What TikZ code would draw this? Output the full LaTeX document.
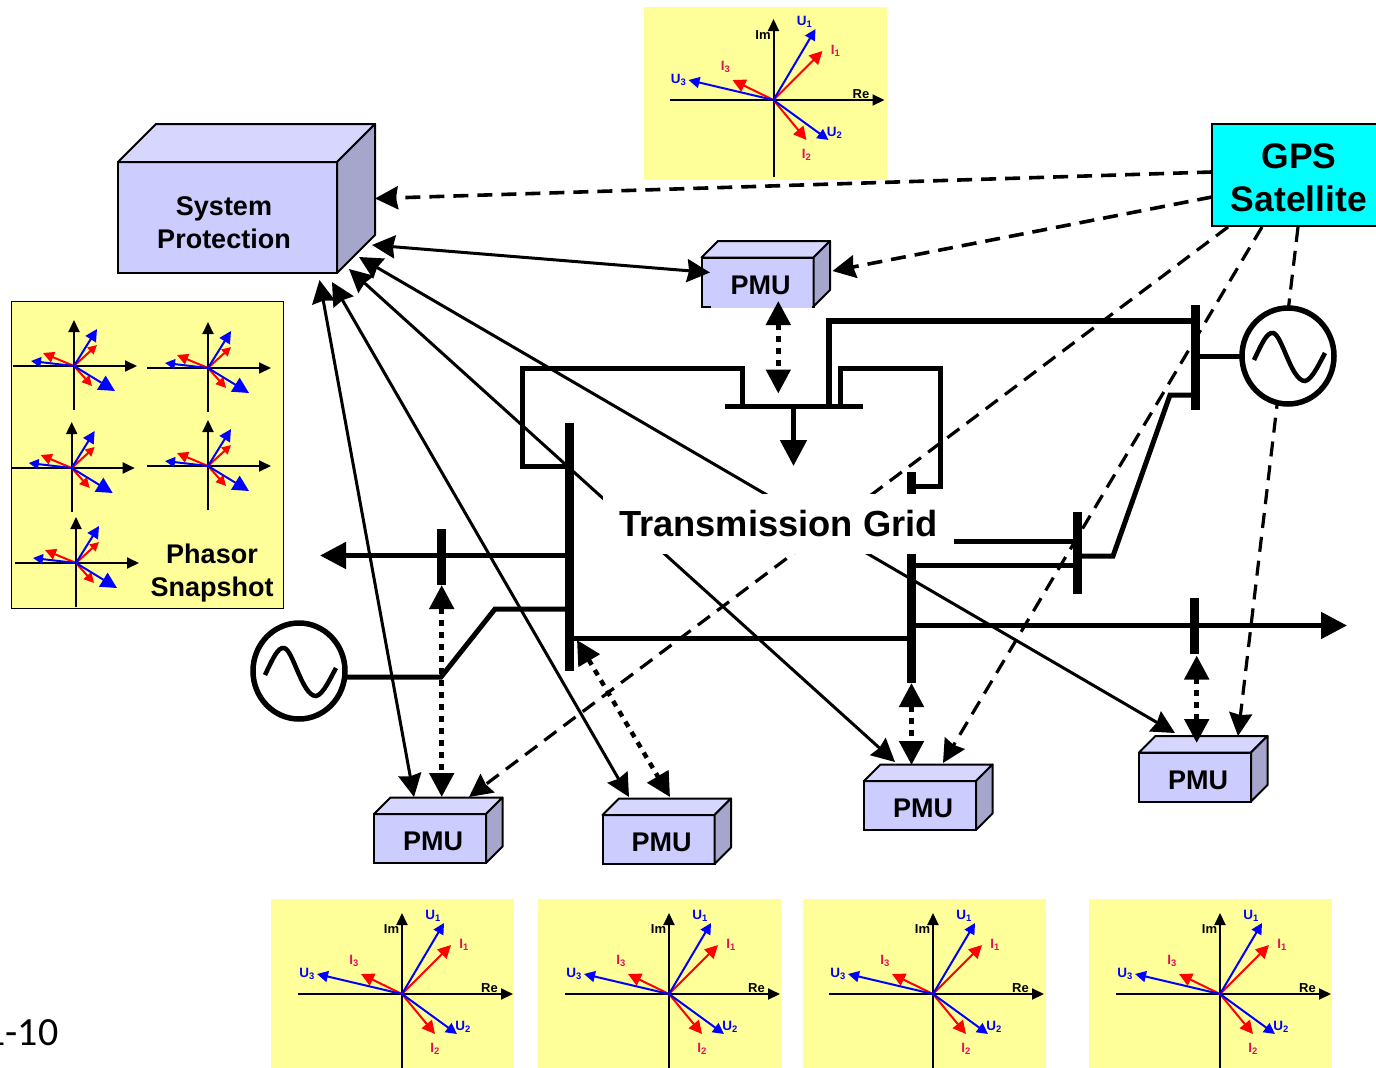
\documentclass[tikz,border=0pt]{standalone}
\usepackage{fontspec}
\setmainfont{Liberation Sans}
\newfontfamily\slidefont{Carlito}
\usetikzlibrary{arrows.meta,shapes.geometric}
\definecolor{paneyellow}{HTML}{FFFF99}
\definecolor{boxfront}{HTML}{CCCCFF}
\definecolor{boxtop}{HTML}{D6D6FF}
\definecolor{boxside}{HTML}{A6A6CC}
\definecolor{gpscyan}{HTML}{00FFFF}
\definecolor{vecblue}{HTML}{0000FF}
\definecolor{vecred}{HTML}{FF0000}
\definecolor{labred}{HTML}{E0105A}
\tikzstyle{panel} = [rectangle, fill=paneyellow, minimum width=243pt, minimum height=173pt, inner sep=0pt, outer sep=0pt]
\tikzstyle{axisline} = [line width=2pt, black, -{Triangle[length=12pt,width=11pt]}]
\tikzstyle{bluevec}[11pt] = [line width=2pt, vecblue, -{Triangle[length=#1,width=#1]}]
\tikzstyle{redvec}[13pt] = [line width=2pt, vecred, -{Triangle[length=#1,width=#1]}]
\tikzstyle{blab} = [text=vecblue, font=\fontsize{13.5}{13.5}\selectfont\bfseries, inner sep=0pt]
\tikzstyle{rlab} = [text=labred, font=\fontsize{13.5}{13.5}\selectfont\bfseries, inner sep=0pt]
\tikzstyle{alab} = [text=black, font=\fontsize{13}{13}\selectfont\bfseries, inner sep=0pt]
\tikzstyle{front} = [rectangle, draw=black, line width=2pt, fill=boxfront, inner sep=0pt, outer sep=0pt]
\tikzstyle{face} = [draw=black, line width=2pt, line join=round]
\tikzstyle{boxtext} = [font=\fontsize{27}{33}\selectfont\bfseries, align=center, inner sep=0pt]
\tikzstyle{busbar} = [rectangle, fill=black, inner sep=0pt, outer sep=0pt]
\tikzstyle{net} = [line width=5pt, black, line join=miter]
\tikzstyle{bigarrow} = [line width=5pt, black, -{Triangle[length=26pt,width=26pt]}]
\tikzstyle{solidsig} = [line width=3pt, black, {Stealth[length=23pt,width=23pt,inset=2pt]}-{Stealth[length=23pt,width=23pt,inset=2pt]}]
\tikzstyle{dashsig} = [line width=3.2pt, black, dash pattern=on 15pt off 9pt, -{Stealth[length=23pt,width=23pt,inset=2pt]}]
\tikzstyle{dotsig} = [line width=5pt, black, dash pattern=on 6pt off 6pt, {Triangle[length=24pt,width=24pt]}-{Triangle[length=24pt,width=24pt]}]
\tikzstyle{gen} = [ellipse, draw=black, line width=5.5pt, fill=white, minimum width=92pt, minimum height=96pt, inner sep=0pt, outer sep=0pt]
% one phasor diagram
\newcommand{\phasorpic}[3]{
	\begin{scope}[shift={(#2,#3)}]
		\coordinate (#1o) at (0,0);
		\draw [axisline] (-104,0) -- (111,0);
		\draw [axisline] (0,77) -- (0,-81);
		\draw [redvec] (#1o) -- (49,-49);
		\draw [redvec] (#1o) -- (-41,-20);
		\draw [redvec] (#1o) -- (33,40);
		\draw [bluevec] (#1o) -- (42,-71);
		\draw [bluevec] (#1o) -- (-85,-20);
		\draw [bluevec] (#1o) -- (55,40);
		\node (#1u1) [blab] at (31,-78) {U\textsubscript{1}};
		\node (#1u2) [blab] at (61,33) {U\textsubscript{2}};
		\node (#1u3) [blab] at (-95,-20) {U\textsubscript{3}};
		\node (#1i1) [rlab] at (62,-49) {I\textsubscript{1}};
		\node (#1i2) [rlab] at (33,55) {I\textsubscript{2}};
		\node (#1i3) [rlab] at (-48,-33) {I\textsubscript{3}};
		\node (#1im) [alab] at (-10.5,-65) {Im};
		\node (#1re) [alab] at (87.5,-6) {Re};
	\end{scope}
}
% small diagram of the snapshot panel
\newcommand{\snapphasor}[3]{
	\begin{scope}[shift={(#2,#3)}]
		\coordinate (#1) at (0,0);
		\draw [axisline] (-61,0) -- (63,0);
		\draw [axisline] (0,44) -- (0,-46);
		\draw [redvec=9pt] (#1) -- (23,-21);
		\draw [redvec=11pt] (#1) -- (-31,-13);
		\draw [redvec=10pt] (#1) -- (18,20);
		\draw [bluevec=12pt] (#1) -- (23,-37);
		\draw [bluevec=10pt] (#1) -- (-43,-5);
		\draw [bluevec=16pt] (#1) -- (41,25);
	\end{scope}
}
% top and side faces of a box, #1 is its front
\newcommand{\boxfaces}[2]{
	\draw [face, fill=boxtop] (#1.north west) -- ([shift={(#2,-#2)}]#1.north west) -- ([shift={(#2,-#2)}]#1.north east) -- (#1.north east) -- cycle;
	\draw [face, fill=boxside] (#1.north east) -- ([shift={(#2,-#2)}]#1.north east) -- ([shift={(#2,-#2)}]#1.south east) -- (#1.south east) -- cycle;
}
\newcommand{\pmubox}[3]{
	\node (#1) [front, minimum width=112pt, minimum height=49pt] at (#2,#3) {};
	\boxfaces{#1}{16.5}
	\node (#1text) [boxtext, xshift=3pt, yshift=-3pt] at (#1) {PMU};
}
\newcommand{\genwave}[1]{
	\draw [line width=4.5pt, black] ([shift={(-34,4)}]#1.center) .. controls ([shift={(-26,-13)}]#1.center) and ([shift={(-21,-24)}]#1.center) .. ([shift={(-15,-23)}]#1.center) .. controls ([shift={(-6,-22)}]#1.center) and ([shift={(3,25)}]#1.center) .. ([shift={(17,25)}]#1.center) .. controls ([shift={(24,24)}]#1.center) and ([shift={(32,6)}]#1.center) .. ([shift={(37,-3)}]#1.center);
}

\begin{document}
\begin{tikzpicture}[x=1pt,y=-1pt]
	\useasboundingbox (0,0) rectangle (1376,1068);

	\node (ptop) [panel] at (765.5,93.5) {};
	\node (pa) [panel] at (392.5,985.5) {};
	\node (pb) [panel] at (659.5,985.5) {};
	\node (pc) [panel] at (924.5,985.5) {};
	\node (pd) [panel] at (1210.5,985.5) {};
	\phasorpic{qtop}{773.5}{100}
	\phasorpic{qa}{402}{994}
	\phasorpic{qb}{669}{994}
	\phasorpic{qc}{933}{994}
	\phasorpic{qd}{1220}{994}

	\node (snap) [panel, draw=black, line width=1pt, minimum width=272.5pt, minimum height=307pt] at (147.3,454.5) {};
	\snapphasor{sa}{74}{366}
	\snapphasor{sb}{208}{368}
	\snapphasor{sc}{71.7}{468}
	\snapphasor{sd}{208}{466}
	\snapphasor{se}{76}{563}
	\node (snaptext) [boxtext] at (212,573.5) {Phasor\\Snapshot};

	\node (pagenum) [anchor=east, inner sep=0pt, font=\fontsize{40}{40}\selectfont\slidefont] at (58.5,1033) {1-10};

	% boxes
	\node (sysprot) [front, minimum width=219pt, minimum height=111pt] at (227.5,217.5) {};
	\boxfaces{sysprot}{38}
	\node (sysprottext) [boxtext] at (224,222.5) {System\\Protection};

	\pmubox{pmue}{757.5}{282}
	\draw [line width=2.6pt, boxfront] (711,306.8) -- (811.5,306.8);
	\pmubox{pmua}{430}{838.5}
	\pmubox{pmub}{658.5}{839.5}
	\pmubox{pmuc}{920}{805.5}
	\pmubox{pmud}{1195}{777}

	% buses
	\node (busa) [busbar, minimum width=9pt, minimum height=248pt] at (569.5,547) {};
	\node (busb) [busbar, minimum width=138pt, minimum height=5pt] at (794,406.5) {};
	\node (busc) [busbar, minimum width=9pt, minimum height=105pt] at (1195,357.5) {};
	\node (busd) [busbar, minimum width=8.5pt, minimum height=211pt] at (911.7,577.5) {};
	\node (buse) [busbar, minimum width=9pt, minimum height=82pt] at (1077,553) {};
	\node (busf) [busbar, minimum width=8.5pt, minimum height=56pt] at (1194.5,626) {};
	\node (busg) [busbar, minimum width=9pt, minimum height=56pt] at (441.5,557) {};

	\coordinate (loadl) at (320,555.5);
	\coordinate (loadr) at (1347,625.5);
	\coordinate (loadb) at (793.5,466);

	\draw [bigarrow] (569,555.5) -- (loadl);
	\draw [bigarrow] (912,625.5) -- (loadr);
	\draw [bigarrow] (793.5,406) -- (loadb);
	\draw [net] (569,638) -- (912,638);
	\draw [net] (346,677) -- (441,677) -- (495,609) -- (569,609);
	\draw [net] (742,406) -- (742,368) -- (522.5,368) -- (522.5,466.5) -- (569,466.5);
	\draw [net, line width=6pt] (829,406) -- (829,321) -- (1195,321);
	\draw [net] (840.5,406) -- (840.5,368.5) -- (940,368.5) -- (940,486) -- (912,486);
	\draw [net] (912,541) -- (1077,541);
	\draw [net] (912,565) -- (1077,565);
	\draw [net] (1077,556) -- (1113,556) -- (1170,395) -- (1195,395);
	\draw [net] (1195,356) -- (1242,356);

	% signals
	\coordinate (spa) at (319.5,280);
	\coordinate (spb) at (332,282);
	\coordinate (spc) at (349,269);
	\coordinate (spd) at (359,257);
	\coordinate (spe) at (372,245);
	\coordinate (spf) at (375,198.5);
	\draw [solidsig] (spa) -- (414,797);
	\draw [solidsig] (spb) -- (629,797);
	\draw [solidsig] (spc) -- (895,762);
	\draw [solidsig] (spd) -- (1175,733);
	\draw [solidsig] (spe) -- (710,272.5);

	\draw [dashsig, line width=3.6pt] (1212,172) -- (spf);
	\draw [dashsig, line width=3.6pt] (1212,197) -- (832.5,271);
	\draw [dashsig] (1228,227) -- (469,797);
	\draw [dashsig] (1262,227) -- (943,763);
	\draw [dashsig] (1298,227) -- (1238,736);

	\draw [dotsig] (778.3,301) -- (778.3,393.5);
	\draw [dotsig] (441.7,585) -- (441.7,797);
	\draw [dotsig, line width=4.5pt] (577,640) -- (670,797);
	\draw [dotsig] (911.5,683) -- (911.5,765);
	\draw [dotsig] (1196.7,655.5) -- (1196.7,743);

	% the dashed line runs behind the generators
	\node (genl) [gen] at (299,671) {};
	\node (genr) [gen] at (1288,356) {};
	\genwave{genl}
	\genwave{genr}

	\node (grid) [rectangle, fill=white, minimum width=351pt, minimum height=60pt, inner sep=0pt, font=\fontsize{36.3}{36.3}\selectfont\bfseries] at (778.5,523.5) {Transmission Grid};

	\node (gps) [rectangle, draw=black, line width=2pt, fill=gpscyan, minimum width=174pt, minimum height=102pt, inner sep=0pt, outer sep=0pt] at (1299,175) {};
	\node (gpstext) [align=center, inner sep=0pt, font=\fontsize{35.5}{43}\selectfont\bfseries] at (1299,178) {GPS\\Satellite};
\end{tikzpicture}
\end{document}
